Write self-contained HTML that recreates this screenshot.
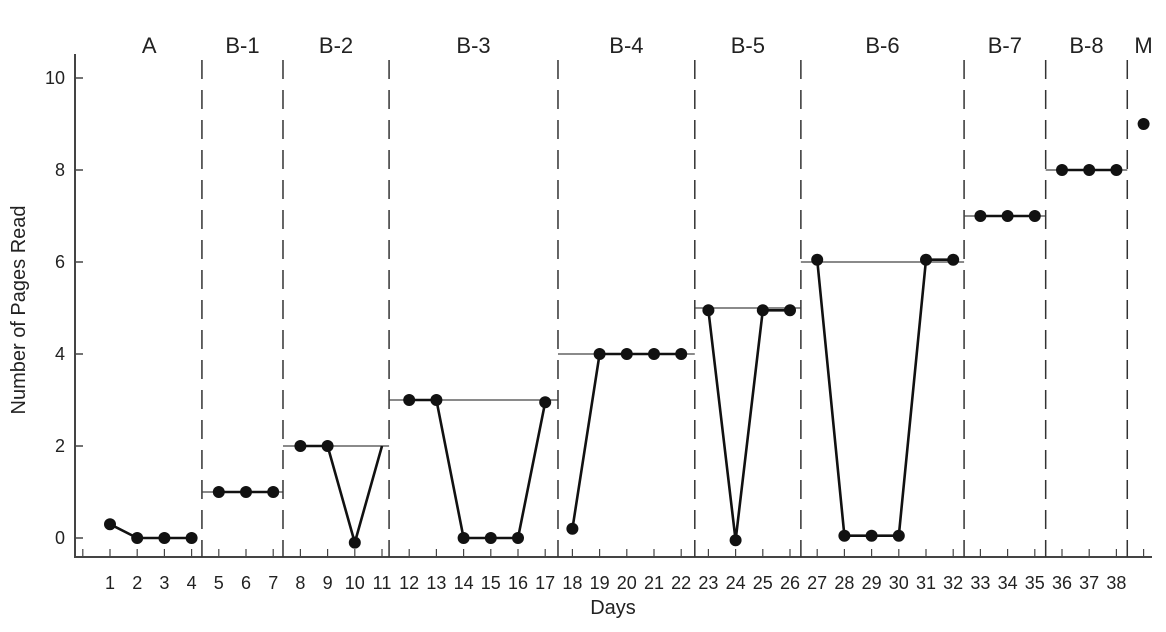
<!DOCTYPE html>
<html><head><meta charset="utf-8"><style>
html,body{margin:0;padding:0;background:#fff}
svg{display:block;font-family:"Liberation Sans",Arial,sans-serif}
</style></head><body>
<svg id="chart" width="1166" height="632" viewBox="0 0 1166 632"></svg>
<script>
const days=[1,2,3,4,5,6,7,8,9,10,11,12,13,14,15,16,17,18,19,20,21,22,23,24,25,26,27,28,29,30,31,32,33,34,35,36,37,38,39];
const pages=[0.3,0,0,0,1,1,1,2,2,-0.1,2,3,3,0,0,0,2.95,0.2,4,4,4,4,4.95,-0.05,4.95,4.95,6.05,0.05,0.05,0.05,6.05,6.05,7,7,7,8,8,8,9];
const hasDot=[1,1,1,1,1,1,1,1,1,1,0,1,1,1,1,1,1,1,1,1,1,1,1,1,1,1,1,1,1,1,1,1,1,1,1,1,1,1,1];
const phaseNames=["A","B-1","B-2","B-3","B-4","B-5","B-6","B-7","B-8","M"];
const phaseStart=[0.5,4.38,7.36,11.26,17.47,22.5,26.4,32.4,35.4,38.4];
const phaseEnd=[4.38,7.36,11.26,17.47,22.5,26.4,32.4,35.4,38.4,39.8];
const phaseFirstDay=[1,5,8,12,18,23,27,33,36,39];
const phaseLastDay=[4,7,11,17,22,26,32,35,38,39];
const criterion=[null,1,2,3,4,5,6,7,8,null];
const yTicks=[0,2,4,6,8,10];
const xTickLabels=days.slice(0,38);

const NS="http://www.w3.org/2000/svg";
const svg=document.getElementById('chart');
const X=d=>110+(d-1)*27.2;
const Y=v=>538-v*46;
function el(t,a,p){const e=document.createElementNS(NS,t);for(const k in a)e.setAttribute(k,a[k]);(p||svg).appendChild(e);return e;}

const ya=el('line',{x1:75,y1:54,x2:75,y2:557,stroke:'#444','stroke-width':2});


const xa=el('line',{x1:74,y1:557,x2:1152,y2:557,stroke:'#444','stroke-width':2});



yTicks.forEach(v=>{
  const t=el('line',{x1:75,y1:Y(v),x2:83,y2:Y(v),stroke:'#444','stroke-width':1.5});
  
  
  const l=el('text',{x:65,y:Y(v)+6,'text-anchor':'end','font-size':18,fill:'#222'});
  l.textContent=v;
  
  
});
for(let d=0;d<=39;d++){
  const t=el('line',{x1:X(d),y1:549,x2:X(d),y2:557,stroke:'#444','stroke-width':1.2});
  
  
}
xTickLabels.forEach(d=>{
  const l=el('text',{x:X(d),y:589,'text-anchor':'middle','font-size':18,fill:'#222'});
  l.textContent=d;
  
  
});
const xt=el('text',{x:613,y:614,'text-anchor':'middle','font-size':20,fill:'#222'});
xt.textContent='Days';


const yt=el('text',{x:0,y:0,'text-anchor':'middle','font-size':20,fill:'#222',transform:'translate(25,310) rotate(-90)'});
yt.textContent='Number of Pages Read';



phaseNames.forEach((n,i)=>{
  const cx=(X(phaseStart[i])+X(phaseEnd[i]))/2;
  const lx=i===phaseNames.length-1?X(39):cx;
  const l=el('text',{x:lx,y:53,'text-anchor':'middle','font-size':22,fill:'#222'});
  l.textContent=n;
  
  
  if(i>0){
    const pl=el('line',{x1:X(phaseStart[i]),y1:60,x2:X(phaseStart[i]),y2:557,stroke:'#333','stroke-width':1.5,'stroke-dasharray':'19,11'});
    
    
  }
  if(criterion[i]!=null){
    const c=el('line',{x1:X(phaseStart[i]),y1:Y(criterion[i]),x2:X(phaseEnd[i]),y2:Y(criterion[i]),stroke:'#444','stroke-width':1.2});
    
    
  }
  const pts=[];
  days.forEach((d,k)=>{if(d>=phaseFirstDay[i]&&d<=phaseLastDay[i])pts.push(X(d)+','+Y(pages[k]));});
  if(pts.length>1){
    const p=el('polyline',{points:pts.join(' '),fill:'none',stroke:'#111','stroke-width':2.6,'stroke-linejoin':'round'});
    
    
  }
});
days.forEach((d,k)=>{
  if(!hasDot[k])return;
  const c=el('circle',{cx:X(d),cy:Y(pages[k]),r:6,fill:'#111'});
  
  
});
</script>
</body></html>
